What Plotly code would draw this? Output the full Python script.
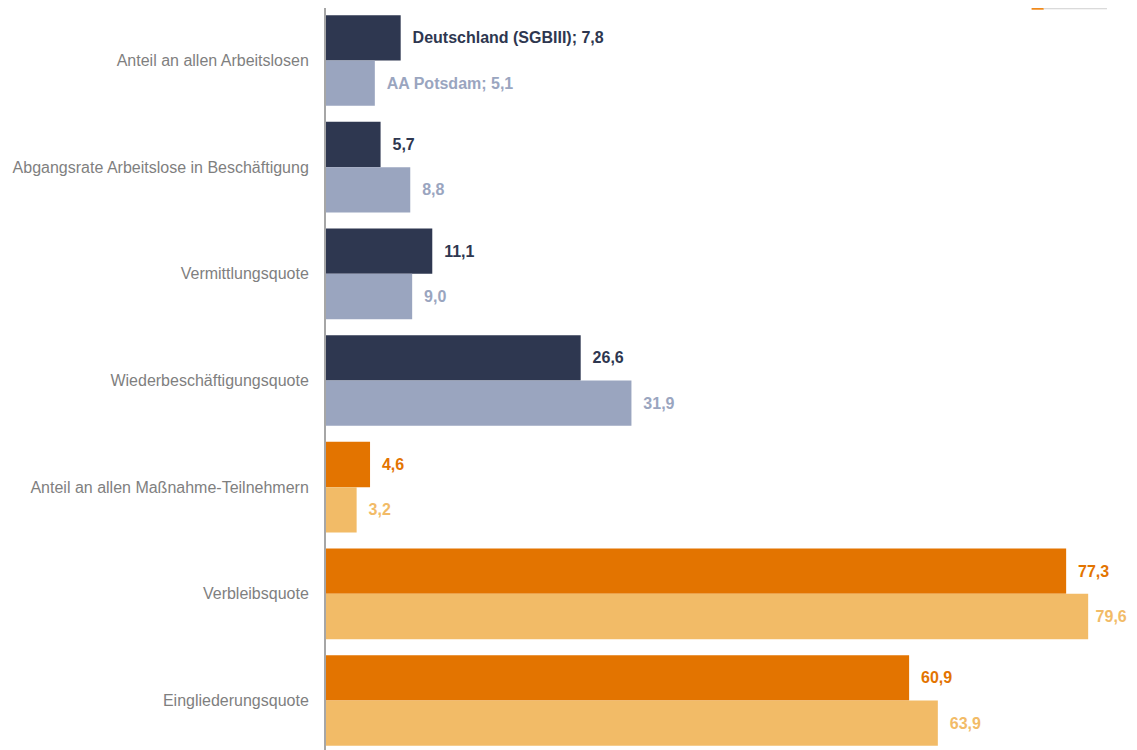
import plotly.graph_objects as go

kategorien = [
    "Anteil an allen Arbeitslosen",
    "Abgangsrate Arbeitslose in Beschäftigung",
    "Vermittlungsquote",
    "Wiederbeschäftigungsquote",
    "Anteil an allen Maßnahme-Teilnehmern",
    "Verbleibsquote",
    "Eingliederungsquote",
]
deutschland = [7.8, 5.7, 11.1, 26.6, 4.6, 77.3, 60.9]
potsdam = [5.1, 8.8, 9.0, 31.9, 3.2, 79.6, 63.9]

# first four rows: unemployed (blue), last three: measures (orange)
farbe_de = ["#2E3750"] * 4 + ["#E37400"] * 3
farbe_pd = ["#9AA5BF"] * 4 + ["#F2BB67"] * 3


def fmt(v):
    return f"{v:.1f}".replace(".", ",")


pad = "\u00a0\u00a0"
text_de = [pad + fmt(v) for v in deutschland]
text_pd = [pad + fmt(v) for v in potsdam]
text_de[0] = pad + "Deutschland (SGBIII); " + fmt(deutschland[0])
text_pd[0] = pad + "AA Potsdam; " + fmt(potsdam[0])
# longest bar: less padding so the label still fits on the page
i_max = potsdam.index(max(potsdam))
text_pd[i_max] = "\u00a0" + fmt(potsdam[i_max])

fig = go.Figure()
fig.add_trace(go.Bar(
    y=kategorien, x=deutschland, orientation="h", name="Deutschland (SGBIII)",
    marker=dict(color=farbe_de, line=dict(width=0)),
    text=[f"<b>{t}</b>" for t in text_de], textposition="outside",
    textfont=dict(color=farbe_de, size=16), cliponaxis=False,
))
fig.add_trace(go.Bar(
    y=kategorien, x=potsdam, orientation="h", name="AA Potsdam",
    marker=dict(color=farbe_pd, line=dict(width=0)),
    text=[f"<b>{t}</b>" for t in text_pd], textposition="outside",
    textfont=dict(color=farbe_pd, size=16), cliponaxis=False,
))

fig.update_layout(
    width=1129, height=742,
    margin=dict(l=318, r=0, t=0, b=0),
    barmode="group", bargap=0.15, bargroupgap=0,
    showlegend=False,
    plot_bgcolor="white", paper_bgcolor="white",
    font=dict(family="Liberation Sans, Arial, sans-serif", size=16, color="#7F7F7F"),
    xaxis=dict(range=[0, 84.7], visible=False),
    yaxis=dict(
        range=[6.464, -0.492], showline=True, linecolor="#A6A6A6", linewidth=2,
        ticks="", ticklabelstandoff=12, showgrid=False, zeroline=False,
        tickfont=dict(size=16, color="#7F7F7F"),
    ),
    shapes=[
        dict(type="line", xref="paper", yref="paper", x0=0.87, x1=0.885, y0=0.999, y1=0.999,
             line=dict(color="#F08A1C", width=2)),
        dict(type="line", xref="paper", yref="paper", x0=0.885, x1=0.963, y0=0.999, y1=0.999,
             line=dict(color="#CFCFCF", width=1)),
    ],
)

fig.write_html("out.html")
